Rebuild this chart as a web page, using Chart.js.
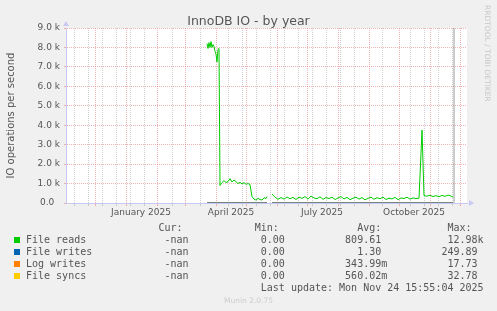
<!DOCTYPE html>
<html>
<head>
<meta charset="utf-8">
<title>InnoDB IO - by year</title>
<script src="https://cdn.jsdelivr.net/npm/chart.js@4.4.1/dist/chart.umd.min.js"></script>
<style>
  html, body { margin: 0; padding: 0; background: #f0f0f0; }
  #wrap { position: relative; width: 497px; height: 311px; overflow: hidden; }
  #chart { position: absolute; left: 0; top: 0; }
  .title { position: absolute; left: 0; width: 497px; top: 12.5px; text-align: center; font: 12.5px "DejaVu Sans", sans-serif; color: #555; }
  .legend { position: absolute; left: 26px; top: 222px; margin: 0; font: 10px/12px "DejaVu Sans Mono", monospace; color: #555; white-space: pre; }
  .swatch { position: absolute; left: 14px; width: 6px; height: 6px; }
  .munin { position: absolute; left: 0; width: 497px; top: 296px; text-align: center; font: 7.5px "DejaVu Sans", sans-serif; color: #ccc; }
  .rrd { position: absolute; left: 483px; top: 5px; writing-mode: vertical-rl; font: 7.5px/8px "DejaVu Sans", sans-serif; color: #c8c8c8; }
</style>
</head>
<body>
<div id="wrap">
  <canvas id="chart" width="497" height="311"></canvas>
  <div class="title">InnoDB IO - by year</div>
  <div class="rrd">RRDTOOL / TOBI OETIKER</div>
  <pre class="legend" id="legend"></pre>
  <div class="munin">Munin 2.0.75</div>
</div>
<script>
// x axis unit: days from the left edge of the graph (about Nov 1 2024)
const xMin = 0;
const xMax = 401;
const yMax = 9000;
const nowDay = 388;

const monthDays = [29, 60, 91, 119, 150, 180, 211, 241, 272, 303, 333, 364, 394];
const weekDays = [8, 22, 36, 50, 64, 78, 106, 134, 162, 176, 190, 204, 218, 232, 246, 260, 274, 288, 316, 344, 358, 372, 386];
const labelDays = [75, 165, 256, 348];
const labelTexts = ['January 2025', 'April 2025', 'July 2025', 'October 2025'];

// File reads (ops/s)
const readsDays = [141, 142, 143, 144, 145, 146, 147, 148, 149, 150, 151, 152, 153, 154,
  156, 158, 160, 162, 164, 166, 168, 170, 172, 174, 176, 178, 180, 182, 184, 186,
  188, 190, 192, 194, 196, 198, 200, 201, 203, 206, 209, 212,
  215, 218, 221, 224, 227, 230, 233, 236, 239, 242, 245, 248, 251, 254, 257, 260,
  263, 266, 269, 272, 275, 278, 281, 284, 287, 290, 293, 296, 299, 302, 305, 308,
  311, 314, 317, 320, 323, 326, 329, 332, 335, 338, 341, 344, 347, 350,
  353, 355, 356, 358, 361, 364, 367, 370, 373, 376, 379, 382, 385, 387];
const readsValues = [8200, 7950, 8250, 8000, 8300, 8000, 8150, 8050, 7800, 7650, 7250, 7900, 7950, 900,
  1050, 1150, 1050, 1100, 1250, 1080, 1180, 1100, 1000, 1060, 980, 1050, 960, 1000, 950, 330,
  200, 150, 240, 180, 150, 270, 230, 330, null, 460, 300, 190,
  280, 200, 310, 220, 290, 180, 300, 240, 330, 200, 360, 260, 220, 320, 190, 280,
  230, 300, 180, 260, 330, 210, 290, 170, 250, 300, 200, 280, 160, 240, 300, 190,
  270, 220, 300, 180, 250, 210, 290, 170, 260, 230, 300, 200, 260, 230,
  250, 2550, 3750, 380, 350, 400, 330, 380, 320, 390, 340, 410, 360, 300];

// File writes, Log writes, File syncs (all close to zero)
const lowDays = [141, 154, 201, 203, 206, 300, 387];
const writesValues = [2.4, 1.8, 1.1, null, 1.0, 1.2, 0.9];
const logValues = [0.4, 0.3, 0.3, null, 0.35, 0.3, 0.35];
const syncsValues = [0.6, 0.5, 0.55, null, 0.6, 0.55, 0.5];

const seriesNames = ['File reads', 'File writes', 'Log writes', 'File syncs'];
const seriesColors = ['#00cc00', '#0066b3', '#ff8000', '#ffcc00'];
const curVals = ['-nan', '-nan', '-nan', '-nan'];
const minVals = ['0.00', '0.00', '0.00', '0.00'];
const avgVals = ['809.61 ', '1.30 ', '343.99m', '560.02m'];
const maxVals = ['12.98k', '249.89 ', '17.73 ', '32.78 '];
const lastUpdate = 'Last update: Mon Nov 24 15:55:04 2025';

const redGrid = 'rgba(225, 120, 120, 0.55)';
const greyGrid = 'rgba(170, 170, 170, 0.55)';
const axisColor = '#c8c8f4';

function pts(days, vals) {
  return days.map((d, i) => ({ x: d, y: vals[i] }));
}

const xTickValues = [...new Set([...monthDays, ...weekDays, ...labelDays])].sort((a, b) => a - b);

const plotBg = {
  id: 'plotBg',
  beforeDraw(chart) {
    const { ctx, chartArea: a } = chart;
    ctx.save();
    ctx.fillStyle = '#ffffff';
    ctx.fillRect(a.left, a.top, a.right - a.left, a.bottom - a.top);
    ctx.restore();
  },
  afterDraw(chart) {
    const { ctx, chartArea: a } = chart;
    ctx.save();
    ctx.fillStyle = axisColor;
    ctx.beginPath();
    ctx.moveTo(a.left - 3, a.top - 2);
    ctx.lineTo(a.left + 3, a.top - 2);
    ctx.lineTo(a.left, a.top - 7);
    ctx.closePath();
    ctx.fill();
    ctx.beginPath();
    ctx.moveTo(a.right + 2, a.bottom - 3);
    ctx.lineTo(a.right + 2, a.bottom + 3);
    ctx.lineTo(a.right + 7, a.bottom);
    ctx.closePath();
    ctx.fill();
    ctx.restore();
  }
};

const lineOpts = { pointRadius: 0, borderWidth: 1, tension: 0, fill: false, spanGaps: false };

new Chart(document.getElementById('chart'), {
  type: 'line',
  data: {
    datasets: [
      { label: 'now', data: [{ x: nowDay, y: 0 }, { x: nowDay, y: yMax }], borderColor: '#9a9a9a', ...lineOpts },
      { label: seriesNames[0], data: pts(readsDays, readsValues), borderColor: seriesColors[0], ...lineOpts },
      { label: seriesNames[1], data: pts(lowDays, writesValues), borderColor: seriesColors[1], ...lineOpts },
      { label: seriesNames[2], data: pts(lowDays, logValues), borderColor: seriesColors[2], ...lineOpts },
      { label: seriesNames[3], data: pts(lowDays, syncsValues), borderColor: seriesColors[3], ...lineOpts }
    ]
  },
  options: {
    responsive: false,
    animation: false,
    devicePixelRatio: 1,
    layout: { padding: { left: 0, right: 30, top: 28, bottom: 88 } },
    plugins: {
      legend: { display: false },
      tooltip: { enabled: false },
      title: { display: false }
    },
    scales: {
      x: {
        type: 'linear',
        min: xMin,
        max: xMax,
        afterBuildTicks(scale) {
          scale.ticks = xTickValues.map(v => ({ value: v }));
        },
        afterFit(scale) { scale.height = 20; },
        ticks: {
          autoSkip: false,
          maxRotation: 0,
          minRotation: 0,
          padding: 1,
          color: '#555',
          font: { family: 'DejaVu Sans', size: 9 },
          callback(v) {
            const i = labelDays.indexOf(v);
            return i >= 0 ? labelTexts[i] : '';
          }
        },
        grid: {
          tickLength: 3,
          color(ctx) {
            const v = ctx.tick ? ctx.tick.value : null;
            if (monthDays.includes(v)) return redGrid;
            if (weekDays.includes(v)) return greyGrid;
            return 'rgba(0,0,0,0)';
          }
        },
        border: { color: axisColor, width: 1, dash: [1, 1] }
      },
      y: {
        min: 0,
        max: yMax,
        afterFit(scale) { scale.width = 66; },
        ticks: {
          stepSize: 500,
          padding: 4,
          color: '#555',
          font: { family: 'DejaVu Sans', size: 9 },
          callback(v) {
            if (v % 1000 !== 0) return '';
            return v === 0 ? '0.0  ' : (v / 1000).toFixed(1) + ' k';
          }
        },
        grid: {
          tickLength: 2,
          color(ctx) {
            const v = ctx.tick ? ctx.tick.value : 0;
            return v % 1000 === 0 ? redGrid : greyGrid;
          }
        },
        border: { color: axisColor, width: 1, dash: [1, 1] },
        title: {
          display: true,
          text: 'IO operations per second',
          color: '#555',
          font: { family: 'DejaVu Sans', size: 10 },
          padding: { top: 5, bottom: 0 }
        }
      }
    }
  },
  plugins: [plotBg]
});

// legend table in the rrdtool style
function row(name, cur, min, avg, max) {
  let s = name;
  s = s.padEnd(27 - cur.length) + cur;
  s = s.padEnd(43 - min.length) + min;
  s = s.padEnd(60 - avg.length) + avg;
  s = s.padEnd(76 - max.length) + max;
  return s;
}
const lines = [row('', 'Cur: ', 'Min: ', 'Avg: ', 'Max:  ').replace(/\s+$/, '')];
seriesNames.forEach((n, i) => lines.push(row(n, curVals[i], minVals[i], avgVals[i], maxVals[i])));
lines.push(''.padEnd(39) + lastUpdate);
document.getElementById('legend').textContent = lines.join('\n');

const wrap = document.getElementById('wrap');
seriesColors.forEach((c, i) => {
  const sw = document.createElement('div');
  sw.className = 'swatch';
  sw.style.background = c;
  sw.style.top = (237 + i * 12) + 'px';
  wrap.appendChild(sw);
});
</script>
</body>
</html>
